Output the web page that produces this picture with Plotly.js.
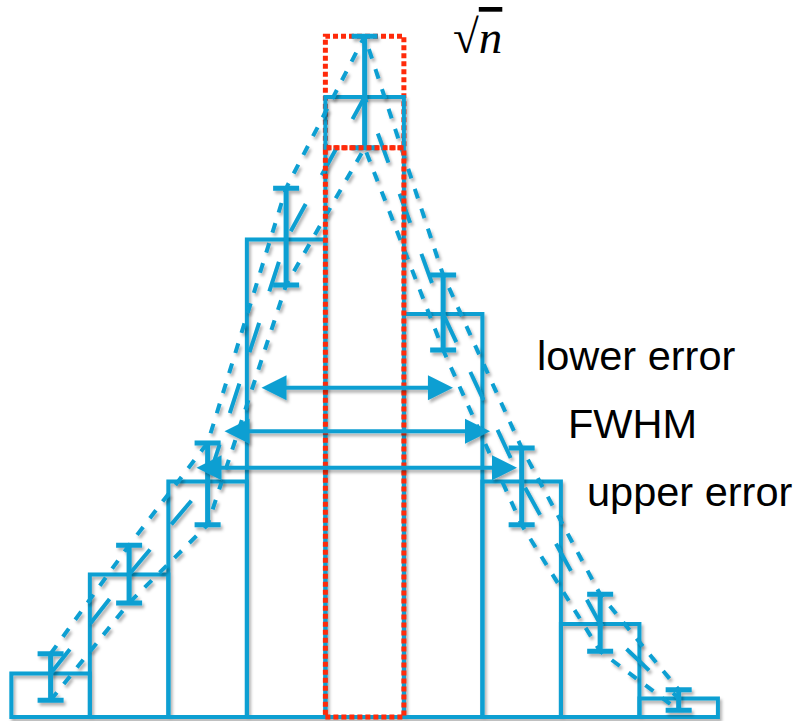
<!DOCTYPE html>
<html>
<head>
<meta charset="utf-8">
<script src="https://cdn.plot.ly/plotly-3.0.1.min.js"></script>
<style>
  html, body { margin: 0; padding: 0; background: #ffffff; }
  #chart { width: 802px; height: 721px; }
</style>
</head>
<body>
<div id="chart"></div>
<script>
// Histogram bins (bin centres) and counts per bin
const binCentres = [1, 2, 3, 4, 5, 6, 7, 8, 9];
const counts     = [7, 23, 38, 77, 100, 65, 38, 15, 3];
// Upper and lower error on each count
const errUp      = [3.2, 4.7, 6.2, 8.3, 9.8, 6.3, 5.4, 4.8, 1.4];
const errDown    = [4.3, 4.6, 7.0, 7.3, 8.2, 5.8, 7.0, 4.4, 1.9];

// Width markers: height of each arrow and its left/right ends (bin units)
const widthLabels = ['lower error', 'FWHM', 'upper error'];
const widthLevels = [53.1, 46.1, 40.2];
const widthLeft   = [3.667, 3.196, 2.839];
const widthRight  = [6.125, 6.597, 6.941];

const BLUE = '#0a9fd2';
const RED  = '#ff2a0a';

const upperCurve = counts.map((c, i) => c + errUp[i]);
const lowerCurve = counts.map((c, i) => c - errDown[i]);

const peak = counts.indexOf(Math.max(...counts));

const traces = [
  {
    type: 'bar',
    x: binCentres,
    y: counts,
    width: 1,
    marker: { color: 'rgba(0,0,0,0)', line: { color: BLUE, width: 4 } },
    hoverinfo: 'skip'
  },
  {
    type: 'scatter',
    mode: 'lines',
    x: binCentres,
    y: upperCurve,
    line: { color: BLUE, width: 4, dash: '10px,11px' },
    hoverinfo: 'skip'
  },
  {
    type: 'scatter',
    mode: 'lines',
    x: binCentres,
    y: lowerCurve,
    line: { color: BLUE, width: 4, dash: '10px,11px' },
    hoverinfo: 'skip'
  },
  {
    type: 'scatter',
    mode: 'lines',
    x: binCentres,
    y: counts,
    line: { color: BLUE, width: 4, dash: '31px,33px' },
    error_y: {
      type: 'data',
      symmetric: false,
      array: errUp,
      arrayminus: errDown,
      color: BLUE,
      thickness: 5,
      width: 13
    },
    hoverinfo: 'skip'
  }
];

const redLine = { color: RED, width: 5, dash: '5px,3px' };
const shapes = [
  // band between lower and upper error of the peak bin
  {
    type: 'rect', layer: 'below', xref: 'x', yref: 'y',
    x0: binCentres[peak] - 0.5, x1: binCentres[peak] + 0.5,
    y0: counts[peak] - errDown[peak], y1: counts[peak] + errUp[peak],
    line: redLine, fillcolor: 'rgba(0,0,0,0)'
  },
  // peak bin reduced by its lower error
  {
    type: 'rect', layer: 'above', xref: 'x', yref: 'y',
    x0: binCentres[peak] - 0.5, x1: binCentres[peak] + 0.5,
    y0: 0, y1: counts[peak] - errDown[peak],
    line: redLine, fillcolor: 'rgba(0,0,0,0)'
  }
];

const annotations = [];
widthLevels.forEach((lvl, i) => {
  annotations.push({
    xref: 'x', yref: 'y', axref: 'x', ayref: 'y',
    x: widthRight[i], y: lvl, ax: widthLeft[i], ay: lvl,
    text: '', showarrow: true,
    arrowside: 'end+start',
    arrowhead: 2, startarrowhead: 2,
    arrowsize: 1.25, startarrowsize: 1.25,
    arrowwidth: 4, arrowcolor: BLUE
  });
});

const labelPos = [
  { x: 636 / 802, y: 1 - 355 / 721 },
  { x: 632 / 802, y: 1 - 423 / 721 },
  { x: 689 / 802, y: 1 - 491 / 721 }
];
widthLabels.forEach((t, i) => {
  annotations.push({
    xref: 'paper', yref: 'paper', x: labelPos[i].x, y: labelPos[i].y,
    xanchor: 'center', yanchor: 'middle',
    text: t, showarrow: false,
    font: { family: 'Liberation Sans, Arial, sans-serif', size: 41.5, color: '#000000' }
  });
});

// square root of n, with the vinculum drawn as an overline over n
annotations.push({
  xref: 'paper', yref: 'paper', x: 478 / 802, y: 1 - 37 / 721,
  xanchor: 'center', yanchor: 'middle',
  text: '√<span style="text-decoration:overline;text-decoration-thickness:2px"><i>n</i></span>',
  showarrow: false,
  font: { family: 'Liberation Serif, Times New Roman, serif', size: 47, color: '#000000' }
});

const layout = {
  width: 802,
  height: 721,
  margin: { l: 0, r: 0, t: 0, b: 0, pad: 0 },
  paper_bgcolor: '#ffffff',
  plot_bgcolor: '#ffffff',
  showlegend: false,
  bargap: 0,
  xaxis: { range: [0.3555, 10.571], visible: false, fixedrange: true },
  yaxis: { range: [-0.645, 115.65], visible: false, fixedrange: true },
  shapes: shapes,
  annotations: annotations
};

Plotly.newPlot('chart', traces, layout, { displayModeBar: false, staticPlot: true }).then(gd => {
  // soft drop shadow under the blue drawing elements
  const ns = 'http://www.w3.org/2000/svg';
  const svg = gd.querySelector('.main-svg');
  let defs = svg.querySelector('defs');
  if (!defs) { defs = document.createElementNS(ns, 'defs'); svg.insertBefore(defs, svg.firstChild); }
  const filter = document.createElementNS(ns, 'filter');
  filter.setAttribute('id', 'soft-shadow');
  filter.setAttribute('filterUnits', 'userSpaceOnUse');
  filter.setAttribute('x', '0'); filter.setAttribute('y', '0');
  filter.setAttribute('width', '802'); filter.setAttribute('height', '721');
  const ds = document.createElementNS(ns, 'feDropShadow');
  ds.setAttribute('dx', '2'); ds.setAttribute('dy', '3');
  ds.setAttribute('stdDeviation', '1.6');
  ds.setAttribute('flood-color', '#000000');
  ds.setAttribute('flood-opacity', '0.3');
  filter.appendChild(ds);
  defs.appendChild(filter);
  gd.querySelectorAll('.barlayer, .scatterlayer, .annotation-arrow-g').forEach(g => {
    g.setAttribute('filter', 'url(#soft-shadow)');
  });
});
</script>
</body>
</html>
